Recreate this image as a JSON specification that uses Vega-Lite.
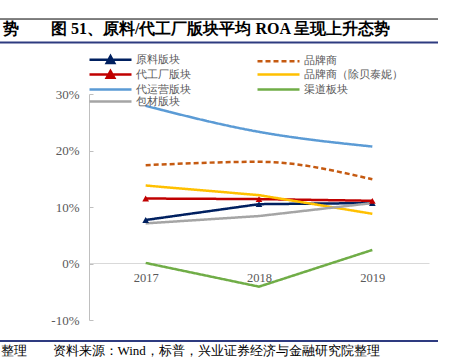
{
  "$schema": "https://vega.github.io/schema/vega-lite/v6.json",
  "width": 438,
  "height": 226,
  "autosize": "none",
  "padding": {"left": 0, "top": 94, "right": 12, "bottom": 38},
  "background": "white",
  "config": {"view": {"stroke": null}, "font": "Liberation Serif"},
  "title": {
    "text": "势\u3000\u3000图 51、原料/代工厂版块平均 ROA 呈现上升态势",
    "anchor": "start",
    "frame": "group",
    "dx": 3,
    "offset": 0,
    "dy": 26.5,
    "baseline": "middle",
    "fontSize": 16,
    "fontWeight": "bold",
    "color": "#000000",
    "font": "Liberation Serif"
  },
  "datasets": {
    "roa": [
      {"year": "2017", "series": "原料版块", "roa": 7.7},
      {"year": "2018", "series": "原料版块", "roa": 10.5},
      {"year": "2019", "series": "原料版块", "roa": 10.7},
      {"year": "2017", "series": "品牌商", "roa": 17.4},
      {"year": "2018", "series": "品牌商", "roa": 18.0},
      {"year": "2019", "series": "品牌商", "roa": 14.9},
      {"year": "2017", "series": "代工厂版块", "roa": 11.5},
      {"year": "2018", "series": "代工厂版块", "roa": 11.4},
      {"year": "2019", "series": "代工厂版块", "roa": 11.1},
      {"year": "2017", "series": "品牌商（除贝泰妮）", "roa": 13.8},
      {"year": "2018", "series": "品牌商（除贝泰妮）", "roa": 12.1},
      {"year": "2019", "series": "品牌商（除贝泰妮）", "roa": 8.8},
      {"year": "2017", "series": "代运营版块", "roa": 27.9},
      {"year": "2018", "series": "代运营版块", "roa": 23.3},
      {"year": "2019", "series": "代运营版块", "roa": 20.7},
      {"year": "2017", "series": "渠道板块", "roa": 0.1},
      {"year": "2018", "series": "渠道板块", "roa": -4.1},
      {"year": "2019", "series": "渠道板块", "roa": 2.4},
      {"year": "2017", "series": "包材版块", "roa": 7.1},
      {"year": "2018", "series": "包材版块", "roa": 8.4},
      {"year": "2019", "series": "包材版块", "roa": 10.7}
    ]
  },
  "layer": [
    {
      "data": {"values": [{}]},
      "mark": {"type": "rule", "color": "#000000", "strokeWidth": 1},
      "encoding": {"y": {"datum": 43.27, "type": "quantitative", "scale": {"domain": [-10, 30]}}}
    },
    {
      "data": {"values": [{}]},
      "mark": {"type": "rule", "color": "#2E3B80", "strokeWidth": 2},
      "encoding": {"y": {"datum": 39.12, "type": "quantitative"}}
    },
    {
      "data": {"values": [{}]},
      "mark": {"type": "rule", "color": "#2E3B80", "strokeWidth": 2},
      "encoding": {"y": {"datum": -13.72, "type": "quantitative"}}
    },
    {
      "data": {"name": "roa"},
      "transform": [{"filter": {"field": "series", "oneOf": ["原料版块", "代工厂版块", "品牌商（除贝泰妮）", "渠道板块", "包材版块"]}}],
      "mark": {"type": "line", "strokeWidth": 2.5},
      "encoding": {
        "x": {
          "field": "year", "type": "ordinal",
          "scale": {"range": [89, 429], "padding": 0.5},
          "axis": {
            "orient": "bottom", "offset": -57,
            "domainColor": "#D9D9D9", "ticks": false,
            "labelPadding": 8, "labelFontSize": 12.5, "labelColor": "#595959", "labelFont": "Liberation Serif", "labelAngle": 0,
            "title": "整理\u3000\u3000资料来源：Wind，标普，兴业证券经济与金融研究院整理",
            "titleX": 0, "titleY": 87, "titleAlign": "left", "titleBaseline": "middle",
            "titleFontWeight": "normal", "titleFontSize": 13, "titleColor": "#000000", "titleFont": "Liberation Serif"
          }
        },
        "y": {
          "field": "roa", "type": "quantitative",
          "scale": {"domain": [-10, 30], "nice": false, "zero": false},
          "axis": {
            "orient": "left", "offset": -89, "values": [-10, 0, 10, 20, 30],
            "labelExpr": "datum.value + '%'", "grid": false,
            "domainColor": "#BFBFBF", "tickColor": "#BFBFBF", "tickSize": -4,
            "labelPadding": 14, "labelFontSize": 13, "labelColor": "#595959", "labelFont": "Liberation Serif",
            "title": null
          }
        },
        "color": {
          "field": "series", "type": "nominal",
          "scale": {
            "domain": ["原料版块", "品牌商", "代工厂版块", "品牌商（除贝泰妮）", "代运营版块", "渠道板块", "包材版块"],
            "range": ["#002060", "#C55A11", "#C00000", "#FFC000", "#5B9BD5", "#70AD47", "#A5A5A5"]
          },
          "legend": {
            "orient": "none", "legendX": 104, "legendY": -41, "columns": 2, "columnPadding": 61, "direction": "horizontal",
            "symbolType": "stroke", "symbolSize": 100, "symbolStrokeWidth": 2.5,
            "labelFont": "Liberation Serif", "labelFontSize": 11, "labelColor": "#595959", "labelOffset": 19,
            "rowPadding": -4, "title": null, "padding": 0,
            "encode": {
              "symbols": {
                "update": {
                  "shape": {"signal": "indexof(['原料版块','代工厂版块'], datum.value) >= 0 ? 'M-4.2,0H4.2M-0.75,0.65L0,-0.7L0.75,0.65Z' : 'M-4.2,0H4.2'"},
                  "fill": {"signal": "indexof(['原料版块','代工厂版块'], datum.value) >= 0 ? scale('color', datum.value) : 'transparent'"}
                }
              }
            }
          }
        },
        "strokeDash": {
          "field": "series", "type": "nominal",
          "scale": {
            "domain": ["原料版块", "品牌商", "代工厂版块", "品牌商（除贝泰妮）", "代运营版块", "渠道板块", "包材版块"],
            "range": [[1, 0], [5, 3], [1, 0], [1, 0], [1, 0], [1, 0], [1, 0]]
          }
        }
      }
    },
    {
      "data": {"name": "roa"},
      "transform": [{"filter": {"field": "series", "oneOf": ["品牌商", "代运营版块"]}}],
      "mark": {"type": "line", "strokeWidth": 2.5, "interpolate": "monotone"},
      "encoding": {
        "x": {"field": "year", "type": "ordinal"},
        "y": {"field": "roa", "type": "quantitative"},
        "color": {"field": "series", "type": "nominal"},
        "strokeDash": {"field": "series", "type": "nominal"}
      }
    },
    {
      "data": {"name": "roa"},
      "transform": [{"filter": {"field": "series", "equal": "原料版块"}}],
      "mark": {"type": "point", "shape": "triangle-up", "filled": true, "size": 45, "opacity": 1, "color": "#002060"},
      "encoding": {
        "x": {"field": "year", "type": "ordinal"},
        "y": {"field": "roa", "type": "quantitative"}
      }
    },
    {
      "data": {"name": "roa"},
      "transform": [{"filter": {"field": "series", "equal": "代工厂版块"}}],
      "mark": {"type": "point", "shape": "triangle-up", "filled": true, "size": 45, "opacity": 1, "color": "#C00000"},
      "encoding": {
        "x": {"field": "year", "type": "ordinal"},
        "y": {"field": "roa", "type": "quantitative"}
      }
    }
  ]
}
